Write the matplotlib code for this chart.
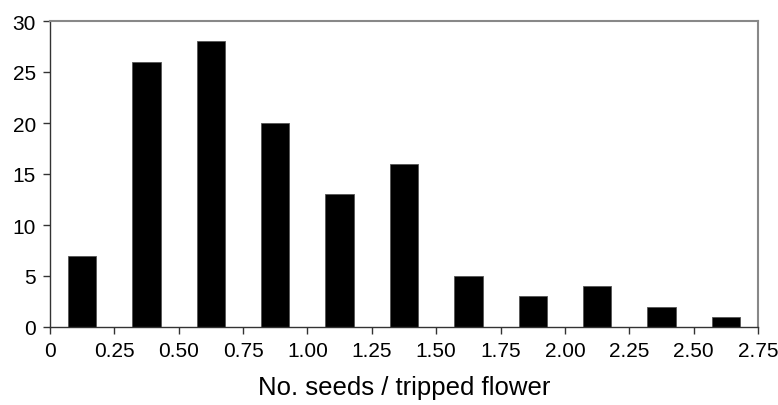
import numpy as np
import matplotlib.pyplot as plt

plt.rcParams['font.family'] = ['Liberation Sans', 'DejaVu Sans']

# Histogram of seeds per tripped flower
bin_edges = [0, 0.25, 0.50, 0.75, 1.00, 1.25, 1.50, 1.75, 2.00, 2.25, 2.50, 2.75]
counts = [7, 26, 28, 20, 13, 16, 5, 3, 4, 2, 1]
tick_labels = ['0', '0.25', '0.50', '0.75', '1.00', '1.25', '1.50', '1.75',
               '2.00', '2.25', '2.50', '2.75']

centers = (np.array(bin_edges[:-1]) + np.array(bin_edges[1:])) / 2

fig = plt.figure(figsize=(7.78, 4.06), dpi=100)
ax = fig.add_axes([50 / 778, 1 - 328 / 406, 708 / 778, 306 / 406])

ax.bar(centers, counts, width=0.11, color='black', edgecolor='#555555', linewidth=0.6)

ax.set_xlim(0, 2.75)
ax.set_ylim(0, 30)
ax.set_xticks(bin_edges)
ax.set_xticklabels(tick_labels)
ax.set_yticks([0, 5, 10, 15, 20, 25, 30])
ax.tick_params(axis='both', labelsize=15, direction='out', length=5, width=1, colors='#333333',
               labelcolor='black')
ax.tick_params(axis='x', pad=5)
ax.tick_params(axis='y', pad=5)

for side in ['top', 'right']:
    ax.spines[side].set_color('#888888')
    ax.spines[side].set_linewidth(1.5)
for side in ['left', 'bottom']:
    ax.spines[side].set_color('#333333')
    ax.spines[side].set_linewidth(1)

ax.set_xlabel('No. seeds / tripped flower', fontsize=18.5, labelpad=11)

plt.savefig('out.png', dpi=100)
